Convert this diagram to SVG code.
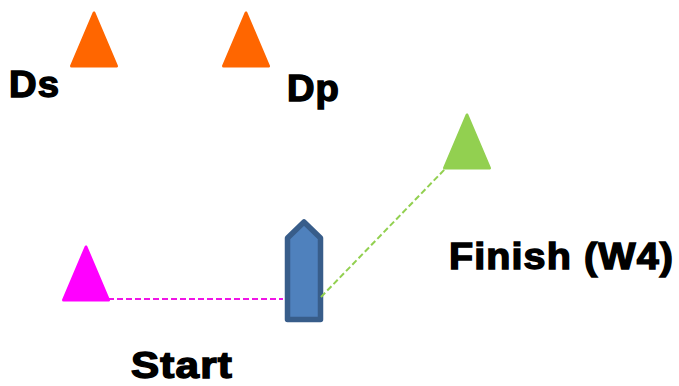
<svg xmlns="http://www.w3.org/2000/svg" width="679" height="386" viewBox="0 0 679 386">
<style>
.t{font-family:"Liberation Sans",Arial,sans-serif;font-weight:700;font-size:36px;letter-spacing:1px;fill:#000;stroke:#000;stroke-width:1.4}
.tri{stroke-width:3;stroke-linejoin:round}
.o{fill:#ff6600;stroke:#ff6600}
.c{fill:none;stroke-width:2;stroke-dasharray:6 3}
</style>
<rect width="679" height="386" fill="#fff"/>
<g id="boat"><path fill="#4f81bd" stroke="#385d8a" stroke-width="5.5" stroke-linejoin="round" d="M304 222L320.500 238V319.500H287.500V238Z"/></g>
<g id="connectors">
<path class="c" d="M108 299H283" stroke="#f014e6"/>
<path class="c" d="M321 297L446 168" stroke="#92d050"/>
</g>
<g id="ds"><path class="tri o" d="M94 13L116.500 66H71.500Z"/><text class="t" x="9" y="96.500" textLength="51" lengthAdjust="spacingAndGlyphs">Ds</text></g>
<g id="dp"><path class="tri o" d="M246 13L268.500 66H223.500Z"/><text class="t" x="287" y="100.500" textLength="53" lengthAdjust="spacingAndGlyphs">Dp</text></g>
<g id="finish"><path class="tri" fill="#92d050" stroke="#92d050" d="M467 115L489.500 168H444.500Z"/><text class="t" x="449" y="268.500" textLength="225" lengthAdjust="spacingAndGlyphs">Finish (W4)</text></g>
<g id="start"><path class="tri" fill="#ff00ff" stroke="#ff00ff" d="M86 247L108.500 300H63.500Z"/><text class="t" x="131" y="378.300" textLength="102" lengthAdjust="spacingAndGlyphs">Start</text></g>
</svg>
